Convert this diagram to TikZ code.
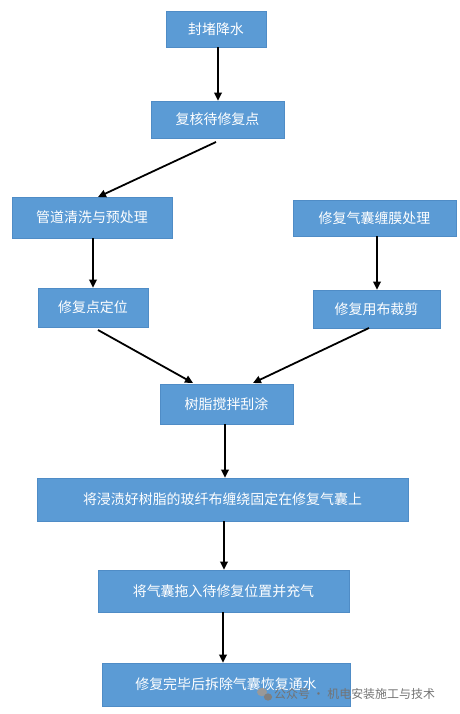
\documentclass[tikz,border=0pt]{standalone}
\usepackage{fontspec}
\setmainfont{Liberation Serif}
\newfontfamily\cjk{Noto Sans CJK SC}
\usetikzlibrary{arrows.meta}
\definecolor{boxblue}{HTML}{5B9BD5}
\definecolor{boxedge}{HTML}{4F8CC6}
\tikzset{
  stepbox/.style={draw=boxedge, line width=0.6pt, fill=boxblue, text=white,
    font=\cjk\fontsize{14}{16}\selectfont, inner sep=0pt, anchor=center},
  flow/.style={line width=1.8pt, -{Triangle[length=8pt,width=7.5pt]}},
}
\begin{document}
\begin{tikzpicture}[x=1bp,y=-1bp]
\useasboundingbox (0,0) rectangle (460,714);
\node[stepbox, minimum width=100bp, minimum height=36bp] (a) at (216,29) {封堵降水};
\node[stepbox, minimum width=133bp, minimum height=37bp] (b) at (217.5,119.5) {复核待修复点};
\node[stepbox, minimum width=160bp, minimum height=41bp] (c) at (92,217.5) {管道清洗与预处理};
\node[stepbox, minimum width=163bp, minimum height=36bp] (d) at (374.5,218) {修复气囊缠膜处理};
\node[stepbox, minimum width=110bp, minimum height=39bp] (e) at (93,307.5) {修复点定位};
\node[stepbox, minimum width=127bp, minimum height=38bp] (f) at (376.5,309) {修复用布裁剪};
\node[stepbox, minimum width=133bp, minimum height=40bp] (g) at (226.5,404) {树脂搅拌刮涂};
\node[stepbox, minimum width=371bp, minimum height=43bp] (h) at (222.5,499.5) {将浸渍好树脂的玻纤布缠绕固定在修复气囊上};
\node[stepbox, minimum width=251bp, minimum height=42bp] (i) at (223.5,591) {将气囊拖入待修复位置并充气};
\node[stepbox, minimum width=248bp, minimum height=43bp] (j) at (226,684.5) {修复完毕后拆除气囊恢复通水};
\coordinate (bs) at (216,142);
\coordinate (es) at (98,330);
\coordinate (fs) at (369,328);
\draw[flow] (a.south -| 218,0) -- (b.north -| 218,0);
\draw[flow] (bs) -- (98,197);
\draw[flow] (c.south -| 93,0) -- (e.north -| 93,0);
\draw[flow] (d.south -| 377,0) -- (f.north -| 377,0);
\draw[flow] (es) -- (193,383);
\draw[flow] (fs) -- (253,383);
\draw[flow] (g.south -| 225,0) -- (h.north -| 225,0);
\draw[flow] (h.south -| 224,0) -- (i.north -| 224,0);
\draw[flow] (i.south -| 223,0) -- (j.north -| 223,0);
% watermark
\node[text=black!55, font=\cjk\fontsize{12}{14}\selectfont, anchor=west, inner sep=0pt] (wm) at (274,694) {公众号 · 机电安装施工与技术};
\fill[black!40] (262,692) ellipse (5bp and 4.2bp);
\fill[black!50] (268,697) ellipse (4.2bp and 3.6bp);
\end{tikzpicture}
\end{document}
